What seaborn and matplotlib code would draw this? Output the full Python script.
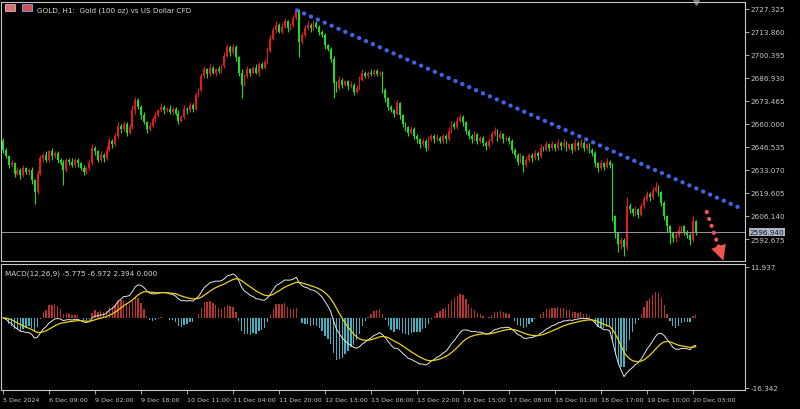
import numpy as np
import pandas as pd
import matplotlib
matplotlib.use("Agg")
import matplotlib.pyplot as plt
import matplotlib.transforms as mtransforms
from matplotlib.patches import Rectangle
import seaborn as sns

# 데이터: GOLD H1 종가 (차트에서 읽은 근사값)
closes = [
    2645, 2641, 2636, 2637, 2631, 2633, 2630, 2634, 2632, 2633,
    2627, 2620, 2631, 2640, 2642, 2639, 2644, 2641, 2643, 2639,
    2637, 2633, 2639, 2638, 2636, 2639, 2637, 2634, 2632, 2634,
    2637, 2646, 2644, 2639, 2642, 2640, 2645, 2650, 2648, 2653,
    2659, 2657, 2660, 2655, 2658, 2668, 2674, 2670, 2665, 2661,
    2657, 2659, 2663, 2665, 2668, 2670, 2668, 2669, 2667, 2669,
    2666, 2662, 2664, 2669, 2668, 2671, 2669, 2677, 2680, 2688,
    2692, 2689, 2693, 2690, 2692, 2691, 2694, 2700, 2705, 2702,
    2705, 2699, 2690, 2683, 2688, 2692, 2690, 2693, 2690, 2695,
    2693, 2696, 2703, 2710, 2715, 2718, 2714, 2717, 2720, 2716,
    2718, 2722, 2726, 2708, 2712, 2716, 2718, 2716, 2719, 2717,
    2714, 2712, 2706, 2704, 2698, 2684, 2681, 2686, 2683, 2685,
    2682, 2683, 2679, 2681, 2686, 2690, 2688, 2690, 2689, 2691,
    2689, 2690, 2680, 2675, 2670, 2668, 2666, 2672, 2665, 2660,
    2658, 2655, 2657, 2653, 2651, 2648, 2650, 2646, 2651, 2653,
    2651, 2652, 2650, 2653, 2651, 2656, 2660, 2658, 2662, 2664,
    2661, 2656, 2653, 2651, 2654, 2650, 2652, 2649, 2647, 2650,
    2654, 2656, 2652, 2654, 2651, 2652, 2650, 2645, 2642, 2638,
    2641, 2636, 2639, 2642, 2640, 2643, 2641, 2646, 2645, 2648,
    2646, 2648, 2646, 2649, 2647, 2649, 2646, 2648, 2645, 2649,
    2647, 2649, 2646, 2648, 2645, 2643, 2637, 2634, 2637, 2635,
    2638, 2636, 2606, 2596, 2590, 2592, 2588, 2612, 2610, 2608,
    2610, 2607, 2612, 2616, 2619, 2617, 2621, 2623, 2620, 2614,
    2606, 2600, 2596, 2593, 2595, 2598, 2600, 2597, 2595, 2592,
    2603, 2596.94,
]
first_open = 2650.0

# 윗꼬리 / 아랫꼬리 길이
up_wick = [
    2, 1, 1, 2, 1, 2, 1, 2, 1, 1, 2, 1, 2, 2, 1, 2, 1, 2, 1, 1,
    1, 2, 1, 1, 2, 1, 1, 1, 2, 1, 2, 2, 1, 1, 2, 1, 2, 2, 1, 2,
    2, 1, 2, 1, 2, 3, 2, 1, 1, 2, 1, 2, 1, 2, 1, 2, 1, 1, 2, 1,
    1, 2, 1, 2, 1, 2, 1, 2, 1, 2, 2, 1, 2, 1, 1, 2, 1, 2, 2, 1,
    2, 1, 1, 2, 1, 2, 1, 1, 2, 1, 1, 2, 2, 2, 2, 2, 1, 2, 2, 1,
    1, 2, 1, 1.3, 2, 2, 2, 1, 2, 1, 1, 1, 1, 1, 1, 2, 1, 2, 1, 1,
    1, 2, 1, 2, 2, 2, 1, 1, 2, 1, 1, 1, 1, 1, 1, 1, 1, 2, 1, 1,
    1, 1, 2, 1, 1, 1, 2, 1, 2, 1, 1, 2, 1, 1, 1, 2, 2, 1, 2, 2,
    1, 1, 1, 1, 2, 1, 1, 1, 1, 2, 2, 2, 1, 2, 1, 1, 1, 1, 1, 1,
    2, 1, 2, 1, 1, 2, 1, 2, 1, 2, 1, 2, 1, 2, 1, 2, 1, 1, 1, 2,
    1, 2, 1, 1, 1, 1, 1, 1, 2, 1, 2, 1, 1, 1, 1, 2, 1, 5, 2, 1,
    2, 1, 2, 2, 2, 1, 2, 3, 1, 1, 1, 1, 1, 1, 2, 2, 1, 1, 1, 1,
    3, 1,
]
low_wick = [
    2, 1, 2, 1, 2, 1, 2, 1, 1, 2, 2, 7, 1, 1, 2, 1, 1, 2, 1, 2,
    1, 9, 1, 2, 1, 1, 2, 1, 2, 1, 1, 1, 2, 1, 1, 2, 1, 1, 2, 1,
    1, 2, 1, 2, 1, 1, 2, 1, 2, 1, 2, 1, 1, 2, 1, 1, 2, 1, 1, 2,
    1, 2, 1, 1, 2, 1, 2, 1, 1, 1, 1, 2, 1, 1, 2, 1, 1, 1, 1, 2,
    1, 2, 2, 8, 1, 1, 2, 1, 1, 2, 1, 1, 1, 1, 1, 2, 1, 1, 1, 2,
    1, 1, 1, 9, 1, 1, 1, 2, 1, 1, 2, 1, 2, 1, 2, 9, 2, 1, 2, 1,
    2, 1, 2, 1, 1, 1, 1, 1, 1, 1, 1, 1, 2, 2, 2, 1, 2, 1, 2, 2,
    2, 2, 1, 2, 2, 2, 1, 2, 1, 1, 2, 1, 1, 1, 2, 1, 1, 1, 1, 1,
    2, 2, 2, 2, 1, 2, 1, 2, 2, 1, 1, 1, 2, 1, 2, 1, 2, 2, 2, 2,
    1, 4, 1, 1, 2, 1, 2, 1, 1, 1, 2, 1, 2, 1, 2, 1, 2, 1, 2, 1,
    2, 1, 2, 1, 2, 2, 2, 2, 1, 2, 1, 2, 3, 3, 5, 3, 5, 2, 2, 2,
    2, 2, 1, 1, 1, 2, 1, 1, 2, 2, 2, 3, 6, 2, 2, 1, 2, 2, 2, 3,
    1, 2,
]

time_labels = ["5 Dec 2024", "6 Dec 09:00", "9 Dec 02:00", "9 Dec 18:00",
               "10 Dec 11:00", "11 Dec 04:00", "11 Dec 20:00", "12 Dec 13:00",
               "13 Dec 06:00", "13 Dec 22:00", "16 Dec 15:00", "17 Dec 08:00",
               "18 Dec 01:00", "18 Dec 17:00", "19 Dec 10:00", "20 Dec 03:00"]
label_step = 16

price_ticks = [2727.325, 2713.860, 2700.395, 2686.930, 2673.465, 2660.000,
               2646.535, 2633.070, 2619.605, 2606.140, 2592.675]
macd_ticks = [11.937, -16.342]
last_price = 2596.940
macd_header = [-5.775, -6.972, 2.394, 0.000]

# 추세선 / 화살표 끝점 (봉 번호, 가격)
trend_x = [102.3, 255.5]
trend_y = [2726.5, 2611.5]
arrow_x = [244.8, 250.6]
arrow_y = [2608.5, 2580.0]

# 스타일
sns.set_theme(style="dark", rc={
    "axes.facecolor": "black", "figure.facecolor": "black",
    "axes.edgecolor": "#c8c8c8", "text.color": "#d0d0d0",
    "xtick.color": "#c8c8c8", "ytick.color": "#c8c8c8",
    "axes.grid": False,
})
plt.rcParams["font.family"] = ["DejaVu Sans"]

fs = 5.2
up_col = "#e01b1b"
down_col = "#1fdc1f"

df = pd.DataFrame({"close": closes})
df["open"] = [first_open] + closes[:-1]
df["high"] = df[["open", "close"]].max(axis=1) + up_wick
df["low"] = df[["open", "close"]].min(axis=1) - low_wick
df["idx"] = np.arange(len(df))
df["color"] = np.where(df["close"] >= df["open"], up_col, down_col)

# MACD(12,26,9)
ema12 = df["close"].ewm(span=12, adjust=False).mean()
ema26 = df["close"].ewm(span=26, adjust=False).mean()
df["macd"] = ema12 - ema26
df["signal"] = df["macd"].ewm(span=9, adjust=False).mean()
df["hist"] = 2 * (df["macd"] - df["signal"])

fig = plt.figure(figsize=(8, 4.1), dpi=100)
W, H = 800, 410
ax = fig.add_axes([1 / W, (H - 262) / H, 744 / W, 259 / H])
ax2 = fig.add_axes([1 / W, (H - 391) / H, 744 / W, 126 / H])

# 캔들
body_low = df[["open", "close"]].min(axis=1)
body_h = (df["close"] - df["open"]).abs().clip(lower=0.4)
ax.vlines(df["idx"], df["low"], df["high"], colors=df["color"], lw=0.8)
ax.bar(df["idx"], body_h, bottom=body_low, width=0.62, color=df["color"], linewidth=0)

ax.axhline(last_price, color="#9a9a9a", lw=0.7)

# 하락 추세선 (파란 점선)
sns.lineplot(x=trend_x, y=trend_y, ax=ax, color="#3f63e6", lw=3.1,
             linestyle=(0, (0.05, 1.7)), dash_capstyle="round")

# 빨간 점선 화살표
fx = arrow_x[0] + (arrow_x[1] - arrow_x[0]) * 0.78
fy = arrow_y[0] + (arrow_y[1] - arrow_y[0]) * 0.78
ax.plot([arrow_x[0], fx], [arrow_y[0], fy], color="#f25555", lw=3.0,
        linestyle=(0, (0.05, 1.7)), dash_capstyle="round")
ax.annotate("", xy=(arrow_x[1], arrow_y[1]), xytext=(fx, fy),
            arrowprops=dict(arrowstyle="-|>,head_width=0.45,head_length=0.9",
                            color="#f25555", lw=0.1, shrinkA=0, shrinkB=0),
            annotation_clip=False)

ax.set_xlim(-0.7, 258.1)
ax.set_ylim(2579.8, 2731.4)
ax.yaxis.tick_right()
ax.set_yticks(price_ticks)
ax.set_yticklabels([f"{t:.3f}" for t in price_ticks], fontsize=fs)
ax.tick_params(axis="y", right=True, length=3, width=0.6, pad=1)
ax.set_xticks([])
for s in ax.spines.values():
    s.set_linewidth(0.8)

# 현재가 라벨
trans = mtransforms.blended_transform_factory(ax.transAxes, ax.transData)
ax.text(1.006, last_price, f"{last_price:.3f}", transform=trans, fontsize=fs,
        color="#1a1a1a", va="center", ha="left",
        bbox=dict(boxstyle="square,pad=0.12", fc="#a9b4c6", ec="none"))

# 차트 시프트 표시
ax.plot([len(df) - 1], [2731.4], marker="v", color="#7a7a7a", ms=4, clip_on=False)

# 제목
ax.text(36 / 744, 1 - 8 / 259, "GOLD, H1:  Gold (100 oz) vs US Dollar CFD",
        transform=ax.transAxes, fontsize=fs, color="#d8d8d8", va="center", ha="left")
fig.patches.append(Rectangle((5 / W, 1 - 12 / H), 10 / W, 7 / H, transform=fig.transFigure,
                             fc="#e07070", ec="#ffffff", lw=0.4))
fig.patches.append(Rectangle((22 / W, 1 - 12 / H), 10 / W, 7 / H, transform=fig.transFigure,
                             fc="#d05050", ec="#7aa0ff", lw=0.6))

# MACD 패널
ax2.bar(df["idx"], df["hist"], width=0.45,
        color=np.where(df["hist"] >= 0, "#b8322e", "#3fb3c4"), linewidth=0)
sns.lineplot(x=df["idx"], y=df["macd"], ax=ax2, color="#e6e6e6", lw=0.7)
sns.lineplot(x=df["idx"], y=df["signal"], ax=ax2, color="#e8d21a", lw=0.9)
ax2.set_xlim(-0.7, 258.1)
ax2.set_ylim(-16.9, 12.6)
ax2.yaxis.tick_right()
ax2.set_yticks(macd_ticks)
ax2.set_yticklabels([f"{t:.3f}" for t in macd_ticks], fontsize=fs)
ax2.tick_params(axis="y", right=True, length=3, width=0.6, pad=1)
ax2.set_xticks([label_step * k for k in range(len(time_labels))])
ax2.set_xticklabels(time_labels, fontsize=4.6, ha="left")
ax2.tick_params(axis="x", bottom=True, length=3, width=0.6, pad=2)
ax2.set_xlabel("")
ax2.set_ylabel("")
for s in ax2.spines.values():
    s.set_linewidth(0.8)
ax2.text(4 / 744, 1 - 9 / 126,
         "MACD(12,26,9) " + " ".join(f"{v:.3f}" for v in macd_header),
         transform=ax2.transAxes, fontsize=fs, color="#d8d8d8", va="center", ha="left")

fig.savefig("out.png", dpi=100, facecolor="black")
